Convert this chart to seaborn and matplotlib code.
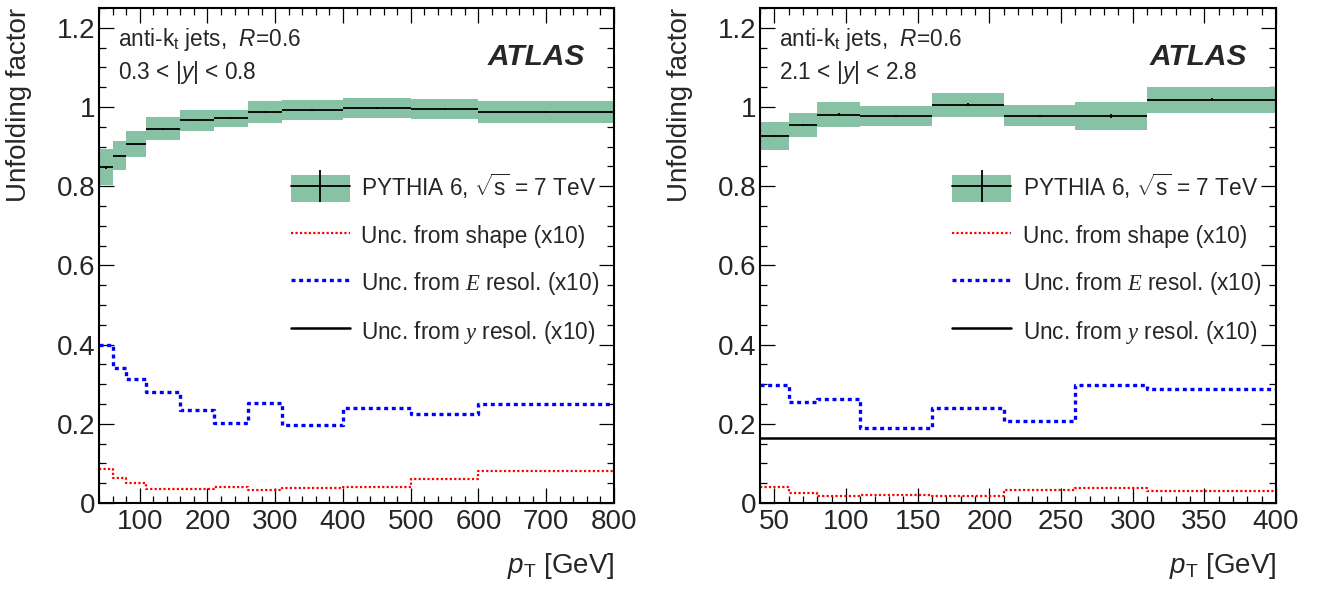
import numpy as np
import matplotlib
matplotlib.use('Agg')
import matplotlib.pyplot as plt
import seaborn as sns
from matplotlib.patches import Patch
from matplotlib.lines import Line2D
from matplotlib.ticker import MultipleLocator, FuncFormatter
from matplotlib.legend_handler import HandlerTuple

# ---------------- data ----------------
left_edges = [40, 60, 80, 110, 160, 210, 260, 310, 400, 500, 600, 800]
left_factor = [0.848, 0.877, 0.907, 0.945, 0.966, 0.971, 0.987, 0.992, 0.997, 0.995, 0.987]
left_syst = [0.045, 0.036, 0.032, 0.029, 0.026, 0.022, 0.027, 0.026, 0.026, 0.025, 0.027]
left_stat = [0.004, 0.003, 0.003, 0.002, 0.002, 0.002, 0.003, 0.002, 0.002, 0.002, 0.003]
left_shape = [0.085, 0.064, 0.050, 0.035, 0.035, 0.041, 0.033, 0.039, 0.041, 0.060, 0.082]
left_eres = [0.400, 0.341, 0.312, 0.281, 0.235, 0.202, 0.253, 0.197, 0.241, 0.226, 0.250]
left_yres = [0.0, 0.0, 0.0, 0.0, 0.0, 0.0, 0.0, 0.0, 0.0, 0.0, 0.0]

right_edges = [40, 60, 80, 110, 160, 210, 260, 310, 400]
right_factor = [0.9275, 0.955, 0.981, 0.9775, 1.006, 0.978, 0.9775, 1.018]
right_syst = [0.035, 0.030, 0.031, 0.025, 0.030, 0.027, 0.035, 0.033]
right_stat = [0.003, 0.003, 0.003, 0.002, 0.003, 0.003, 0.006, 0.004]
right_shape = [0.0395, 0.025, 0.018, 0.021, 0.018, 0.032, 0.038, 0.030]
right_eres = [0.298, 0.254, 0.262, 0.190, 0.240, 0.208, 0.298, 0.287]
right_yres = [0.163, 0.163, 0.163, 0.163, 0.163, 0.163, 0.163, 0.163]

panel_rapidity = ["0.3 < |$y$| < 0.8", "2.1 < |$y$| < 2.8"]
legend_labels = ["PYTHIA 6, $\\sqrt{\\mathrm{s}}$ = 7 TeV",
                 "Unc. from shape (x10)",
                 "Unc. from $\\mathcal{E}$ resol. (x10)",
                 "Unc. from $\\mathcal{y}$ resol. (x10)"]

# ---------------- style ----------------
sns.set_theme(style='ticks')
plt.rcParams['font.family'] = ['Liberation Sans', 'DejaVu Sans']
plt.rcParams['mathtext.fontset'] = 'custom'
plt.rcParams['mathtext.rm'] = 'Liberation Sans'
plt.rcParams['mathtext.it'] = 'Liberation Sans:italic'
plt.rcParams['mathtext.bf'] = 'Liberation Sans:bold'
plt.rcParams['mathtext.cal'] = 'Liberation Serif:italic'

GREEN = '#86C2A3'
TICK_FS = 20
TEXT_FS = 16.3

fig = plt.figure(figsize=(13.25, 5.95), dpi=100)
ax_l = fig.add_axes([99 / 1325, 92 / 595, 515 / 1325, 495 / 595])
ax_r = fig.add_axes([760 / 1325, 92 / 595, 516 / 1325, 495 / 595])


def draw_panel(ax, edges, factor, syst, stat, shape, eres, yres, rap_text,
               xmajor, xminor):
    edges = np.asarray(edges, float)
    factor = np.asarray(factor, float)
    syst = np.asarray(syst, float)
    widths = np.diff(edges)
    centers = edges[:-1] + widths / 2

    # systematic boxes
    ax.bar(edges[:-1], 2 * syst, width=widths, bottom=factor - syst,
           align='edge', color=GREEN, linewidth=0, zorder=1)
    # central values with bin widths and stat errors
    ax.errorbar(centers, factor, xerr=widths / 2, yerr=stat, fmt='none',
                ecolor='black', elinewidth=1.3, capsize=0, zorder=3)

    # step lines via seaborn
    sns.lineplot(x=edges, y=np.append(shape, shape[-1]), ax=ax,
                 drawstyle='steps-post', estimator=None, sort=False,
                 color='#FF0000', linewidth=1.6, linestyle=(0, (1, 1)),
                 legend=False, zorder=4)
    sns.lineplot(x=edges, y=np.append(eres, eres[-1]), ax=ax,
                 drawstyle='steps-post', estimator=None, sort=False,
                 color='#0000FF', linewidth=2.4, linestyle=(0, (1.2, 1.1)),
                 legend=False, zorder=4)
    sns.lineplot(x=edges, y=np.append(yres, yres[-1]), ax=ax,
                 drawstyle='steps-post', estimator=None, sort=False,
                 color='black', linewidth=1.8, legend=False, zorder=4)

    ax.set_xlim(edges[0], edges[-1])
    ax.set_ylim(0, 1.25)
    ax.xaxis.set_major_locator(MultipleLocator(xmajor))
    ax.xaxis.set_minor_locator(MultipleLocator(xminor))
    ax.yaxis.set_major_locator(MultipleLocator(0.2))
    ax.yaxis.set_minor_locator(MultipleLocator(0.05))
    ax.yaxis.set_major_formatter(FuncFormatter(lambda v, p: '%g' % round(v, 3)))
    ax.xaxis.set_major_formatter(FuncFormatter(lambda v, p: '%g' % v))
    ax.tick_params(which='both', direction='in', top=True, right=True,
                   width=0.9, color='black')
    ax.tick_params(which='major', length=10.5, labelsize=TICK_FS)
    ax.tick_params(which='minor', length=5.2)
    ax.tick_params(axis='y', which='major', pad=2.5)
    ax.tick_params(axis='x', which='major', pad=4)
    for s in ax.spines.values():
        s.set_linewidth(1.5)
        s.set_color('black')
        s.set_zorder(6)

    ax.set_ylabel('Unfolding factor', fontsize=TICK_FS, loc='top')
    ax.yaxis.set_label_coords(-0.130, 1.0)
    ax.set_xlabel('$p_\\mathrm{T}$ [GeV]', fontsize=TICK_FS, loc='right')
    ax.xaxis.set_label_coords(1.0, -0.097)

    ax.text(0.037, 0.923, 'anti-k$_\\mathrm{t}$ jets,  $R$=0.6',
            transform=ax.transAxes, fontsize=TEXT_FS, va='baseline', ha='left')
    ax.text(0.037, 0.857, rap_text, transform=ax.transAxes,
            fontsize=TEXT_FS, va='baseline', ha='left')
    ax.text(0.943, 0.885, 'ATLAS', transform=ax.transAxes, fontsize=21.5,
            fontweight='bold', fontstyle='italic', va='baseline', ha='right')

    # legend
    box = Patch(facecolor=GREEN, edgecolor='none')
    hline = Line2D([], [], color='black', linewidth=1.3)
    vmark = Line2D([], [], color='black', linestyle='none', marker='|',
                   markersize=23.5, markeredgewidth=1.3)
    h_shape = Line2D([], [], color='#FF0000', linewidth=1.6, linestyle=(0, (1, 1)))
    h_eres = Line2D([], [], color='#0000FF', linewidth=2.4, linestyle=(0, (1.2, 1.1)))
    h_yres = Line2D([], [], color='black', linewidth=1.8)
    ax.legend([(box, hline, vmark), h_shape, h_eres, h_yres], legend_labels,
              handler_map={tuple: HandlerTuple(ndivide=1)},
              loc='upper left', bbox_to_anchor=(0.373, 0.669),
              frameon=False, fontsize=TEXT_FS, borderpad=0, borderaxespad=0,
              handlelength=2.58, handleheight=1.44, handletextpad=0.52,
              labelspacing=0.90, numpoints=1)


draw_panel(ax_l, left_edges, left_factor, left_syst, left_stat, left_shape,
           left_eres, left_yres, panel_rapidity[0], 100, 20)
draw_panel(ax_r, right_edges, right_factor, right_syst, right_stat, right_shape,
           right_eres, right_yres, panel_rapidity[1], 50, 10)

fig.savefig('out.png', dpi=100)
